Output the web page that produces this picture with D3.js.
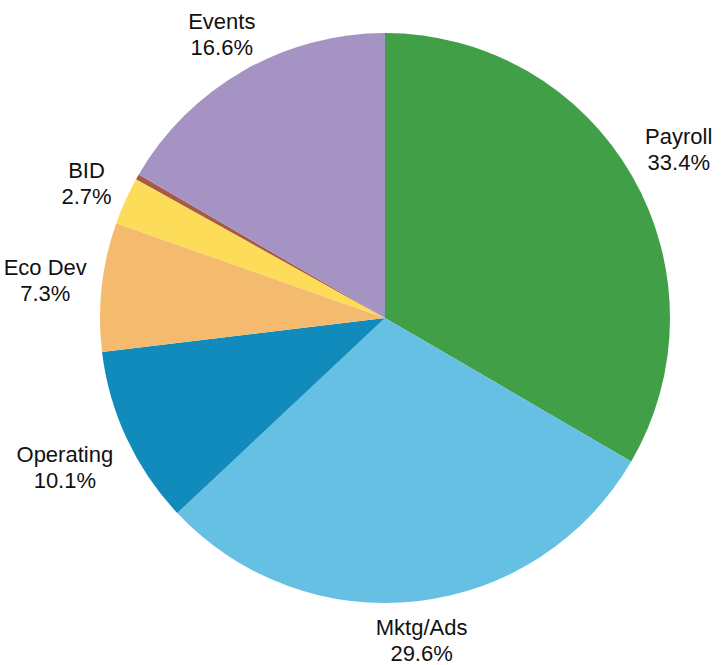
<!DOCTYPE html>
<html>
<head>
<meta charset="utf-8">
<script src="https://cdn.jsdelivr.net/npm/d3@7"></script>
<style>
body { margin: 0; background: #fff; }
.lbl { font: 22px "Liberation Sans", Arial, sans-serif; fill: #111; }
</style>
</head>
<body>
<div id="chart"></div>
<script>
// slice data, clockwise from 12 o'clock
var categories = ["Payroll", "Mktg/Ads", "Operating", "Eco Dev", "BID", "Other", "Events"];
var values = [33.4, 29.6, 10.1, 7.3, 2.7, 0.3, 16.6];
var colors = ["#419f47", "#66c0e4", "#118bbc", "#f4bb6f", "#fddc5a", "#a65a44", "#a594c3"];
var showLabel = [true, true, true, true, true, false, true];

var width = 726, height = 665,
    cx = 385, cy = 318,
    radius = 285;

var svg = d3.select("#chart").append("svg")
    .attr("width", width)
    .attr("height", height);

var g = svg.append("g")
    .attr("transform", "translate(" + cx + "," + cy + ")");

var data = categories.map(function(c, i) {
  return {name: c, value: values[i], color: colors[i], show: showLabel[i]};
});

var pie = d3.pie()
    .sort(null)
    .value(function(d) { return d.value; });

var arc = d3.arc()
    .innerRadius(0)
    .outerRadius(radius);

var arcs = pie(data);

g.selectAll("path.slice")
    .data(arcs)
    .enter()
    .append("path")
    .attr("class", "slice")
    .attr("d", arc)
    .attr("fill", function(d) { return d.data.color; });

// labels: the nearest edge of the text box sits a fixed gap outside the rim
var pad = 15, lineH = 26, hh = 24;
var lbl = g.selectAll("g.lblg")
    .data(arcs.filter(function(d) { return d.data.show; }))
    .enter()
    .append("g")
    .attr("class", "lblg");

lbl.each(function(d) {
  var a = (d.startAngle + d.endAngle) / 2;
  var s = Math.sin(a), c = Math.cos(a);
  var t = d3.select(this).append("text")
      .attr("class", "lbl")
      .attr("text-anchor", "middle");
  t.append("tspan").attr("x", 0).attr("dy", 0).text(d.data.name);
  t.append("tspan").attr("x", 0).attr("dy", lineH).text(d.data.value.toFixed(1) + "%");
  var hw = t.node().getBBox().width / 2;
  var e = Math.min(hw / Math.max(Math.abs(s), 1e-6), hh / Math.max(Math.abs(c), 1e-6));
  var dist = radius + pad + e;
  var x = dist * s, y = -dist * c;
  t.attr("transform", "translate(" + x + "," + (y - 5) + ")");
});
</script>
</body>
</html>
